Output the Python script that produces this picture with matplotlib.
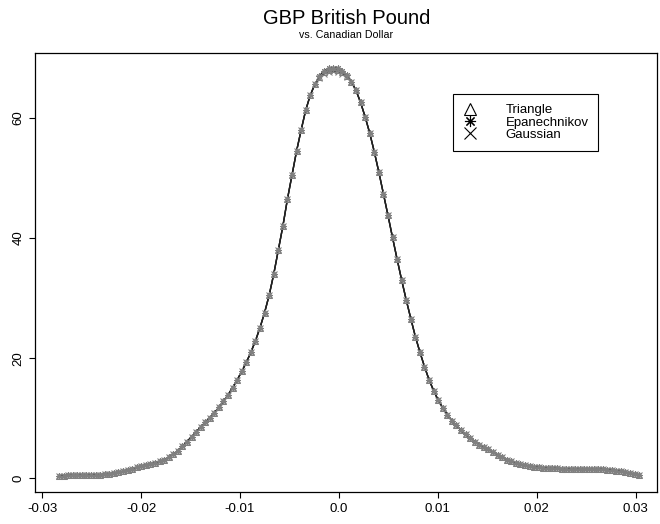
import numpy as np
import matplotlib
matplotlib.use("Agg")
import matplotlib.pyplot as plt
from matplotlib.lines import Line2D

plt.rcParams['font.family'] = ['Liberation Sans', 'DejaVu Sans']

# evaluation grid (x values of density estimate)
x_start, x_end, n_pts = -0.0283, 0.03037, 128
x = np.linspace(x_start, x_end, n_pts)

triangle = [
    0.40, 0.45, 0.48, 0.50, 0.50, 0.50, 0.50, 0.52, 0.56, 0.60,
    0.66, 0.75, 0.85, 0.98, 1.15, 1.35, 1.60, 1.80, 2.00, 2.20,
    2.40, 2.60, 2.80, 3.10, 3.50, 4.00, 4.60, 5.30, 6.10, 6.90,
    7.70, 8.50, 9.30, 10.1, 10.9, 11.8, 12.8, 13.9, 15.1, 16.4,
    17.8, 19.3, 21.0, 22.9, 25.1, 27.6, 30.5, 34.0, 38.0, 42.0,
    46.5, 50.5, 54.5, 58.0, 61.3, 63.8, 65.6, 66.8, 67.6, 68.0,
    68.1, 68.0, 67.6, 67.0, 66.0, 64.6, 62.6, 60.2, 57.5, 54.4,
    51.0, 47.4, 43.8, 40.1, 36.5, 33.0, 29.7, 26.6, 23.6, 21.0,
    18.6, 16.4, 14.6, 13.0, 11.7, 10.6, 9.60, 8.80, 8.00, 7.30,
    6.70, 6.10, 5.60, 5.20, 4.80, 4.30, 3.90, 3.50, 3.10, 2.80,
    2.50, 2.30, 2.15, 2.00, 1.90, 1.82, 1.76, 1.72, 1.68, 1.64,
    1.60, 1.56, 1.53, 1.50, 1.48, 1.47, 1.47, 1.48, 1.50, 1.50,
    1.46, 1.38, 1.28, 1.15, 1.00, 0.85, 0.70, 0.55,
]
epanechnikov = list(triangle)
epanechnikov[57:64] = [67.0, 67.9, 68.3, 68.4, 68.3, 67.9, 67.2]
gaussian = list(triangle)
gaussian[57:64] = [66.6, 67.4, 67.7, 67.8, 67.7, 67.4, 66.8]

labels = ["Triangle", "Epanechnikov", "Gaussian"]
ASTERISK = (8, 2, 0)
markers = ["^", ASTERISK, "x"]
series = [triangle, epanechnikov, gaussian]

xticks = [-0.03, -0.02, -0.01, 0.0, 0.01, 0.02, 0.03]
xticklabels = ["-0.03", "-0.02", "-0.01", "0.0", "0.01", "0.02", "0.03"]
yticks = [0, 20, 40, 60]

W, H = 660, 524
fig = plt.figure(figsize=(W / 100, H / 100), dpi=100)
L, R, T, B = 35.3, 657.3, 52.5, 491.5
ax = fig.add_axes([L / W, 1 - B / H, (R - L) / W, (B - T) / H])

for ys in series:
    ax.plot(x, ys, color="#222222", lw=1.0, zorder=2)
for ys, m in zip(series, markers):
    ax.plot(x, ys, ls="none", marker=m, ms=4.5, mfc="none",
            mec="#808080", mew=0.75, zorder=3)

ax.set_xlim(-0.0307, 0.0322)
ax.set_ylim(-2.2, 70.9)
ax.set_xticks(xticks)
ax.set_xticklabels(xticklabels)
ax.set_yticks(yticks)
ax.set_yticklabels([str(v) for v in yticks], rotation=90, va="center")
ax.tick_params(axis="both", direction="out", length=4, width=0.8,
               labelsize=9.5, pad=4, color="black")
for s in ax.spines.values():
    s.set_linewidth(0.9)
    s.set_color("black")

handles = [Line2D([], [], ls="none", marker=m, color="black", mfc="none",
                  ms=8, mew=0.8) for m in markers]
leg = ax.legend(handles, labels, loc="upper left",
                bbox_to_anchor=(0.672, 0.905), frameon=True, fancybox=False,
                edgecolor="black", fontsize=9.5, handlelength=1.0,
                handletextpad=2.2, labelspacing=0.0, borderpad=0.75,
                borderaxespad=0, framealpha=1)
leg.get_frame().set_linewidth(0.8)

fig.text((L + R) / 2 / W, 1 - 18 / H, "GBP British Pound", ha="center",
         va="center", fontsize=14.5)
fig.text((L + R) / 2 / W, 1 - 35 / H, "vs. Canadian Dollar", ha="center",
         va="center", fontsize=7.7)

fig.savefig("out.png", dpi=100)
